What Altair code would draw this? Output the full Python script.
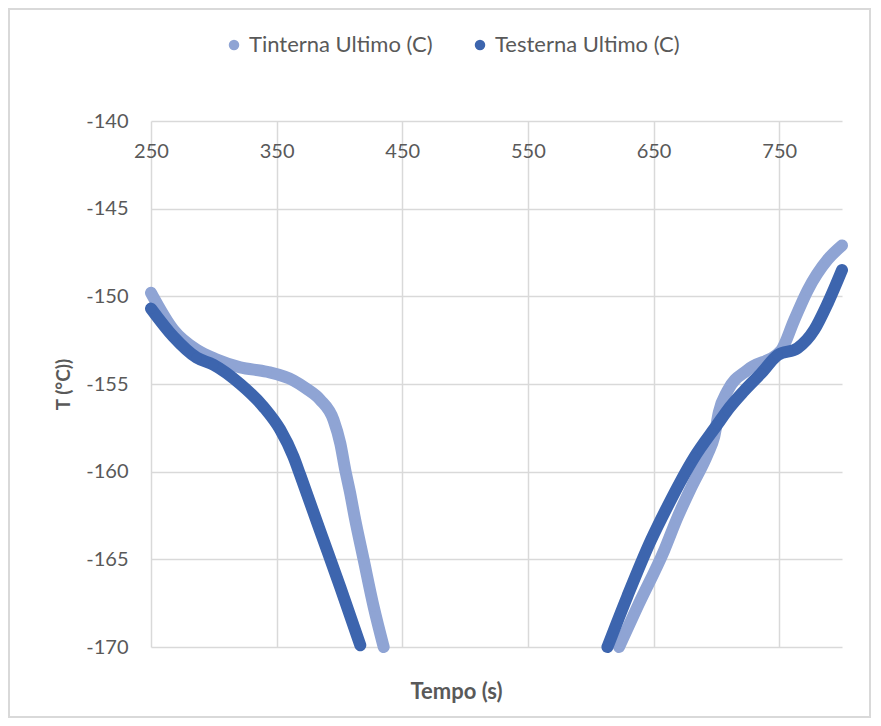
import altair as alt
import pandas as pd

TIN = "Tinterna Ultimo (C)"
TES = "Testerna Ultimo (C)"

x_ticks = [250, 350, 450, 550, 650, 750]
y_ticks = [-170, -165, -160, -155, -150, -145, -140]

tin_left_x = [250, 267.8, 286.4, 302.4, 321, 342.2, 363.4, 373.4, 384.7, 395.3, 400.7, 404.6, 408.6, 412, 419.2, 427.2, 435.2]
tin_left_y = [-149.8, -151.9, -153.05, -153.6, -154.05, -154.3, -154.8, -155.25, -155.9, -157.05, -158.4, -159.9, -161.25, -162.55, -165.0, -167.7, -170.0]

tes_left_x = [250, 267.8, 286.4, 299.7, 321, 339.5, 352.8, 363.4, 368.8, 384.7, 400.7, 416.6]
tes_left_y = [-150.7, -152.3, -153.5, -153.9, -155.0, -156.3, -157.6, -159.15, -160.2, -163.4, -166.6, -169.9]

tin_right_x = [622.5, 637.2, 658.4, 669.1, 680, 693, 698.3, 702, 708.8, 724.8, 751.4, 762, 772.7, 788.6, 800]
tin_right_y = [-170.0, -167.7, -164.5, -162.6, -160.9, -159.0, -158.0, -156.6, -155.4, -154.2, -153.1, -151.35, -149.65, -147.9, -147.1]

tes_right_x = [613.3, 629.2, 648, 661, 682.3, 700.9, 708.8, 722, 735.5, 748.8, 764.7, 778, 788.6, 800]
tes_right_y = [-170.0, -167.1, -163.9, -162.0, -159.2, -157.3, -156.5, -155.4, -154.4, -153.35, -152.95, -151.9, -150.4, -148.5]

rows = []
def add(xs, ys, series, seg):
    for i, (a, b) in enumerate(zip(xs, ys)):
        rows.append(dict(x=a, y=b, series=series, seg=seg, order=i))

add(tin_left_x, tin_left_y, TIN, "L")
add(tin_right_x, tin_right_y, TIN, "R")
add(tes_left_x, tes_left_y, TES, "L")
add(tes_right_x, tes_right_y, TES, "R")
df = pd.DataFrame(rows)

W, H = 691, 526
FONT = "Lato"
GRAY = "#595959"
GRID = "#D9D9D9"

color_scale = alt.Scale(domain=[TIN, TES], range=["#8FA4D4", "#3D65AE"])

x_enc = alt.X("x:Q", scale=alt.Scale(domain=[250, 800], nice=False, zero=False),
              axis=alt.Axis(orient="bottom", offset=-H, values=x_ticks, title=None,
                            domain=False, ticks=False, labelPadding=20, grid=True,
                            labelFlush=False,
                            gridColor=GRID, gridWidth=1.5, labelFontSize=20,
                            labelColor=GRAY, labelFont=FONT))
y_enc = alt.Y("y:Q", scale=alt.Scale(domain=[-170, -140], nice=False, zero=False),
              axis=alt.Axis(values=y_ticks, title="T (°C))", domain=False, ticks=False,
                            labelExpr="'' + datum.value",
                            labelPadding=23, grid=True, gridColor=GRID, gridWidth=1.5,
                            labelFontSize=20, labelColor=GRAY, labelFont=FONT,
                            titleFontSize=19, titleColor=GRAY, titleFont=FONT,
                            titleFontWeight="bold", titlePadding=12))

legend = alt.Legend(title=None, orient="none", legendX=72, legendY=-87, direction="horizontal",
                    symbolType="circle", symbolSize=110, labelFontSize=22, labelColor=GRAY,
                    labelFont=FONT, columnPadding=36, symbolStrokeWidth=0, labelLimit=0)

def layers(series):
    base = alt.Chart(df).transform_filter(alt.datum.series == series)
    line = base.mark_line(strokeWidth=12, strokeCap="round", strokeJoin="round",
                          interpolate="monotone").encode(
        x=x_enc, y=y_enc,
        color=alt.Color("series:N", scale=color_scale, legend=legend),
        detail="seg:N", order="order:Q")
    pts = base.mark_circle(size=110, opacity=1).encode(
        x=x_enc, y=y_enc,
        color=alt.Color("series:N", scale=color_scale, legend=legend))
    return [line, pts]

one = pd.DataFrame({"a": [0]})
border = alt.Chart(one).mark_rect(
    fill="white", fillOpacity=0, stroke=GRID, strokeOpacity=1, strokeWidth=2).encode(
    x=alt.value(-142), x2=alt.value(719), y=alt.value(-112), y2=alt.value(596))

xtitle = alt.Chart(one).mark_text(
    fontSize=22, fontWeight="bold", color=GRAY, font=FONT, baseline="middle", align="center").encode(
    x=alt.value(W / 2 - 40), y=alt.value(H + 45), text=alt.value("Tempo (s)"))

chart = alt.layer(border, xtitle, *layers(TIN), *layers(TES)).properties(
    width=W, height=H,
    autosize=alt.AutoSizeParams(type="none"),
    padding={"left": 143, "top": 113, "right": 30, "bottom": 71},
    background="white",
).configure_view(stroke=None)

chart.save("out.html", embed_options={"renderer": "svg", "actions": False})
